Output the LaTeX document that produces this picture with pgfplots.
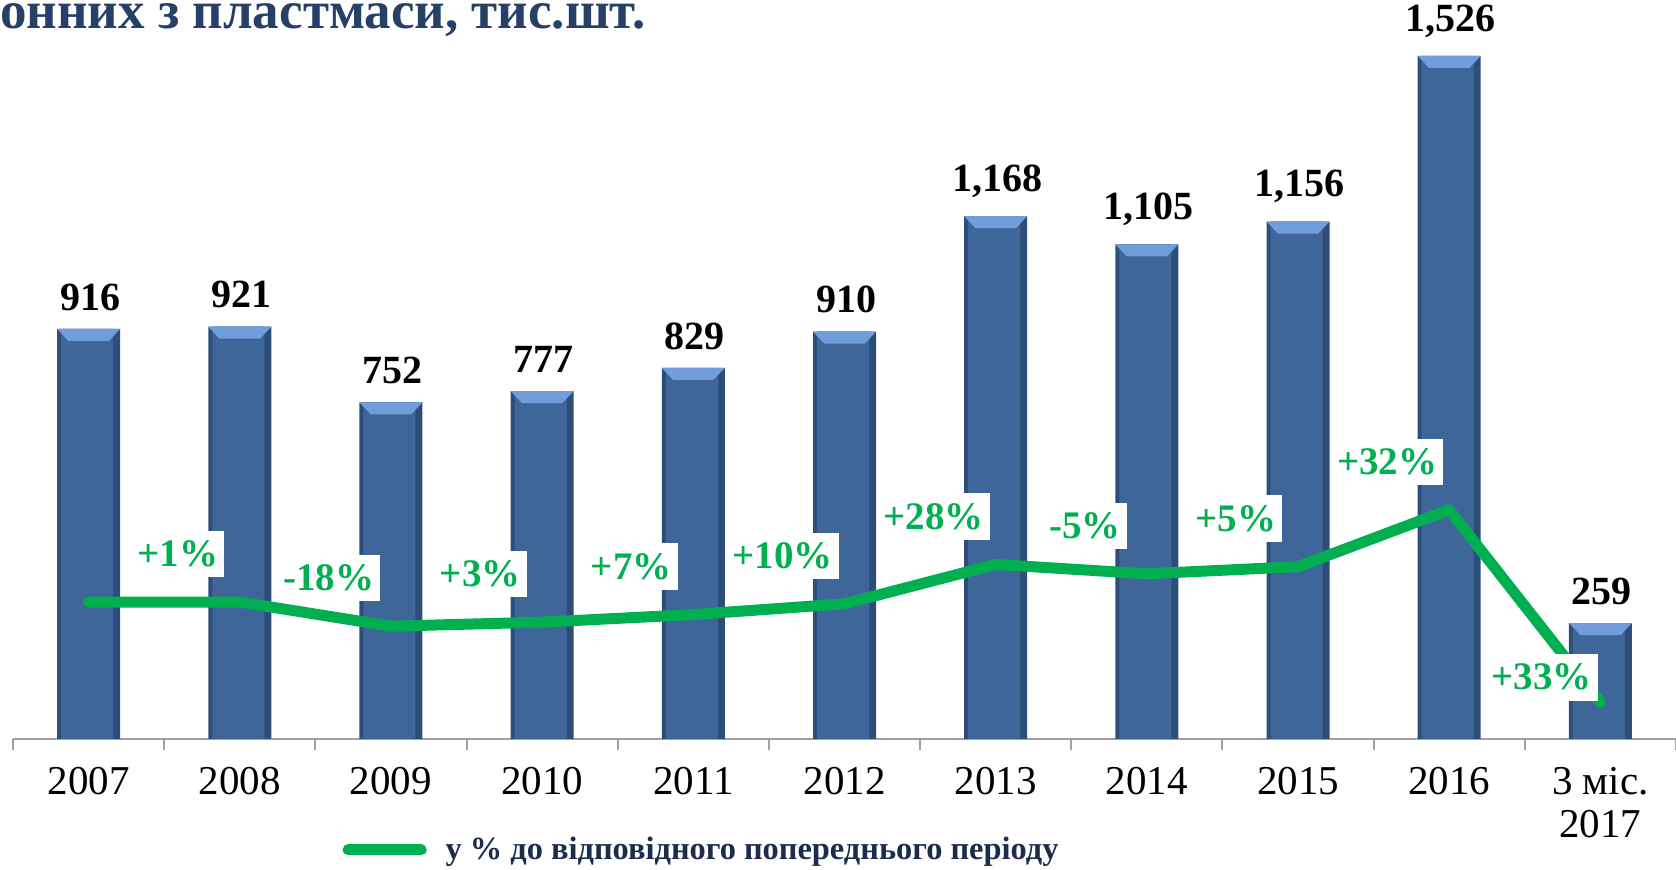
\documentclass[border=0pt]{standalone}
\usepackage{fontspec}
\setmainfont{Liberation Serif}
\usepackage{pgfplots}
\pgfplotsset{compat=1.18}
\usetikzlibrary{shapes.geometric}

\definecolor{barblue}{RGB}{62,102,153}
\definecolor{capblue}{RGB}{112,158,218}
\definecolor{sideblue}{RGB}{46,78,122}
\definecolor{linegreen}{RGB}{0,176,80}
\definecolor{titleblue}{RGB}{38,64,104}
\definecolor{legnavy}{RGB}{30,44,76}
\definecolor{axisgray}{RGB}{160,160,160}

\begin{document}
\begin{tikzpicture}
\begin{axis}[
  name=ax,
  scale only axis,
  width=831.5pt, height=369.5pt,
  xmin=-0.5, xmax=10.5,
  ymin=0, ymax=1651,
  clip=false,
  axis x line*=bottom,
  axis y line=none,
  axis line style={axisgray, line width=1pt},
  xtick={0,...,10},
  xticklabels={2007,2008,2009,2010,2011,2012,2013,2014,2015,2016,{3 міс.\\2017}},
  major tick length=0pt,
  minor xtick={-0.5,0.5,...,10.5},
  minor tick length=5.5pt,
  tick align=outside,
  minor tick style={axisgray, line width=1pt},
  xticklabel style={font=\fontsize{20.5}{21.5}\selectfont, align=center, inner sep=0pt, yshift=-14pt},
  /pgf/number format/assume math mode=true,
  legend style={at={(0.198,-0.150)}, anchor=west, draw=none, fill=none, inner sep=0pt,
    font=\fontsize{16.2}{19}\selectfont\bfseries\color{legnavy}},
  legend image code/.code={\draw[linegreen, line width=5.5pt] (0pt,0pt) -- (36.5pt,0pt); \path (44pt,0pt);},
]
% bars: darker outer body, main face, value labels
\addplot[ybar, forget plot, bar width=31.5pt, bar shift=0pt, draw=none, fill=sideblue]
  coordinates {(0,916) (1,921) (2,752) (3,777) (4,829) (5,910) (6,1168) (7,1105) (8,1156) (9,1526) (10,259)};
\addplot[ybar, forget plot, bar width=26pt, bar shift=-0.75pt, draw=none, fill=barblue,
  point meta=y,
  nodes near coords={\pgfmathprintnumber[1000 sep={,}]{\pgfplotspointmeta}},
  nodes near coords style={font=\fontsize{20}{24}\selectfont\bfseries, text=black, anchor=south, inner sep=0pt, yshift=9pt, xshift=0.75pt}]
  coordinates {(0,916) (1,921) (2,752) (3,777) (4,829) (5,910) (6,1168) (7,1105) (8,1156) (9,1526) (10,259)};
% bevelled caps on the bar tops
\addplot[draw=none, mark=none, forget plot, point meta=y, nodes near coords={\rule{4pt}{0pt}},
  nodes near coords style={shape=trapezium, trapezium stretches=true, minimum width=31.5pt, minimum height=6pt,
    trapezium left angle=50, trapezium right angle=50, shape border rotate=180,
    fill=capblue, inner sep=1pt, anchor=center, yshift=-3pt}]
  coordinates {(0,916) (1,921) (2,752) (3,777) (4,829) (5,910) (6,1168) (7,1105) (8,1156) (9,1526) (10,259)};

\addplot[linegreen, line width=5.5pt, line cap=round, line join=round, mark=none]
  coordinates {(0,306) (1,306) (2,252) (3,261) (4,278) (5,302) (6,390) (7,369) (8,385) (9,512) (10,82)};
\addlegendentry{у \% до відповідного попереднього періоду}

\addplot[draw=none, mark=none, forget plot, point meta=explicit symbolic, nodes near coords,
  nodes near coords style={font=\fontsize{19.5}{22}\selectfont\bfseries, text=linegreen, fill=white,
    inner xsep=3pt, inner ysep=5pt, anchor=center, xshift=-31pt, yshift=24pt}]
  coordinates {(1,306) [+1\%] (2,252) [-18\%] (3,261) [+3\%] (4,278) [+7\%] (5,302) [+10\%]
               (6,390) [+28\%] (7,369) [-5\%] (8,385) [+5\%] (9,512) [+32\%]};
\addplot[draw=none, mark=none, forget plot, point meta=explicit symbolic, nodes near coords,
  nodes near coords style={font=\fontsize{19.5}{22}\selectfont\bfseries, text=linegreen, fill=white,
    inner xsep=3pt, inner ysep=5pt, anchor=center, xshift=-29.5pt, yshift=12.5pt}]
  coordinates {(10,82) [+33\%]};
\end{axis}
\node[anchor=base west, inner sep=0pt, text=titleblue, font=\fontsize{26.5}{29}\selectfont\bfseries]
  at ([shift={(-6.5pt,-14.5pt)}]ax.north west) {онних з пластмаси, тис.шт.};
\pgfresetboundingbox
\path[use as bounding box] ([shift={(-6.5pt,-65.5pt)}]ax.south west) rectangle (ax.north east);
\end{tikzpicture}
\end{document}
